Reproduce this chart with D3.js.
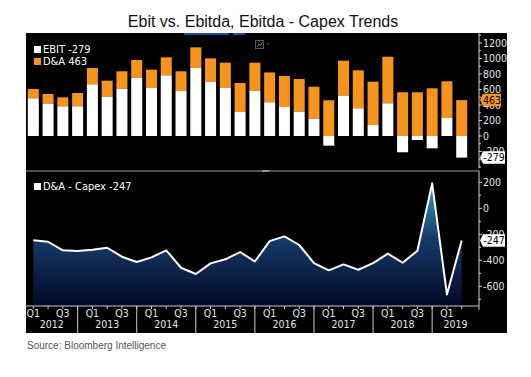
<!DOCTYPE html>
<html lang="en">
<head>
<meta charset="UTF-8">
<title>Ebit vs. Ebitda, Ebitda - Capex Trends</title>
<script src="https://d3js.org/d3.v7.min.js"></script>
<style>
  body { margin: 0; background: #fff; }
  svg { display: block; }
</style>
</head>
<body>
<div id="chart"></div>
<script>
// quarterly data, 2012 Q1 .. 2019 Q2
const quarters = [];
for (let y = 2012; y <= 2019; y++) {
  for (let q = 1; q <= 4; q++) {
    if (y === 2019 && q > 2) break;
    quarters.push(y + " Q" + q);
  }
}
const ebit = [486, 417, 383, 383, 667, 507, 610, 752, 619, 783, 581, 877, 697, 619, 310, 581,
              435, 374, 314, 223, -125, 520, 357, 142, 422, -210, -52, -159, 232, -279];
const da = [120, 125, 116, 172, 210, 207, 225, 229, 237, 232, 254, 267, 305, 327, 374, 365,
            385, 400, 421, 413, 461, 452, 491, 559, 601, 564, 564, 615, 474, 463];
const daCapex = [-246, -257, -323, -328, -318, -303, -372, -413, -377, -323, -457, -505, -423, -392, -336, -409,
                 -252, -216, -282, -421, -477, -431, -472, -421, -349, -418, -326, 192, -662, -247];
const years = [2012, 2013, 2014, 2015, 2016, 2017, 2018, 2019];
const topTicks = [-200, 0, 200, 400, 600, 800, 1000, 1200];
const botTicks = [-600, -400, -200, 0, 200];

const width = 531, height = 377;
const panel = { x0: 26, x1: 507, y0: 33, y1: 333 };
const axisX = 479;
const narrow = "'Liberation Sans Narrow', 'DejaVu Sans Condensed', 'Arial Narrow', sans-serif";
const orange = "#f7941d";

const svg = d3.select("#chart").append("svg")
  .attr("width", width).attr("height", height);

// title + source
svg.append("text")
  .attr("x", 263).attr("y", 26.5)
  .attr("text-anchor", "middle")
  .attr("font-family", "'Liberation Sans', Arial, sans-serif")
  .attr("font-size", 16).attr("fill", "#111")
  .text("Ebit vs. Ebitda, Ebitda - Capex Trends");

svg.append("text")
  .attr("x", 27).attr("y", 348.5)
  .attr("font-family", "'Liberation Sans', Arial, sans-serif")
  .attr("font-size", 10).attr("fill", "#555")
  .text("Source: Bloomberg Intelligence");

// black terminal panel
svg.append("rect")
  .attr("x", panel.x0).attr("y", panel.y0)
  .attr("width", panel.x1 - panel.x0).attr("height", panel.y1 - panel.y0)
  .attr("fill", "#000");

// little UI bits at the top of the panel
svg.append("rect").attr("x", 184).attr("y", 33).attr("width", 45).attr("height", 2).attr("fill", "#1d4e9e");
svg.append("rect").attr("x", 233).attr("y", 33).attr("width", 12).attr("height", 2).attr("fill", "#1d4e9e");
svg.append("rect").attr("x", 255.5).attr("y", 40.5).attr("width", 8).attr("height", 8)
  .attr("fill", "none").attr("stroke", "#555");
svg.append("path").attr("d", "M257,47 L259,44 L260.5,45.5 L262.5,42")
  .attr("fill", "none").attr("stroke", "#777");
svg.append("path").attr("d", "M267,43 L269,43 L268,44.5 Z").attr("fill", "#666");

const x = d3.scalePoint().domain(quarters).range([33.3, 461.7]);
const step = x.step();
const barW = 11;

// ---------- top chart: EBIT and D&A ----------
const yTop = d3.scaleLinear().domain([-413, 1329]).range([168, 33]);

const bars = svg.append("g");
quarters.forEach((q, i) => {
  const e = ebit[i], d = da[i];
  const base = Math.max(e, 0);
  // D&A stacked on positive EBIT (or from zero when EBIT is negative)
  bars.append("rect")
    .attr("x", x(q) - barW / 2).attr("width", barW)
    .attr("y", yTop(base + d)).attr("height", yTop(base) - yTop(base + d))
    .attr("fill", orange);
  bars.append("rect")
    .attr("x", x(q) - barW / 2).attr("width", barW)
    .attr("y", yTop(Math.max(e, 0))).attr("height", Math.abs(yTop(e) - yTop(0)))
    .attr("fill", "#fff");
});

function rightAxis(scale, ticks, minorStep, y0, y1) {
  const g = svg.append("g");
  g.append("line").attr("x1", axisX).attr("x2", axisX).attr("y1", y0).attr("y2", y1)
    .attr("stroke", "#ccc");
  const [lo, hi] = scale.domain();
  for (let v = Math.ceil(lo / minorStep) * minorStep; v <= hi; v += minorStep) {
    const major = ticks.includes(v);
    g.append("line")
      .attr("x1", axisX).attr("x2", axisX + (major ? 3 : 2))
      .attr("y1", scale(v)).attr("y2", scale(v))
      .attr("stroke", "#ccc");
  }
  g.selectAll("text").data(ticks).join("text")
    .attr("x", axisX + 4).attr("y", d => scale(d)).attr("dy", "0.35em")
    .attr("font-family", narrow).attr("font-size", 10.5).attr("fill", "#e6e6e6")
    .text(d => d);
}
rightAxis(yTop, topTicks, 100, 33, 168);

// value flags on the axis
function flag(yPos, label, fill, w) {
  const h = 12.5;
  svg.append("path")
    .attr("d", `M${axisX + 1},${yPos} L${axisX + 4},${yPos - h / 2} L${axisX + 4 + w},${yPos - h / 2} L${axisX + 4 + w},${yPos + h / 2} L${axisX + 4},${yPos + h / 2} Z`)
    .attr("fill", fill);
  svg.append("text")
    .attr("x", axisX + 4 + w / 2).attr("y", yPos).attr("dy", "0.35em")
    .attr("text-anchor", "middle")
    .attr("font-family", narrow).attr("font-size", 10.5).attr("fill", "#000")
    .text(label);
}
flag(yTop(ebit[29]), String(ebit[29]), "#fff", 22);
flag(yTop(da[29]), String(da[29]), orange, 18);

// legend
const legend = [{ label: "EBIT " + ebit[29], color: "#fff" }, { label: "D&A " + da[29], color: orange }];
legend.forEach((l, i) => {
  svg.append("rect").attr("x", 34).attr("y", 46 + i * 12).attr("width", 7).attr("height", 7).attr("fill", l.color);
  svg.append("text").attr("x", 43).attr("y", 53 + i * 12)
    .attr("font-family", narrow).attr("font-size", 11).attr("fill", "#fff")
    .text(l.label);
});

// divider between panes
svg.append("line").attr("x1", panel.x0).attr("x2", axisX).attr("y1", 171).attr("y2", 171)
  .attr("stroke", "#6a6a6a").attr("stroke-width", 1.5);
svg.append("line").attr("x1", 262).attr("x2", 269).attr("y1", 171).attr("y2", 171)
  .attr("stroke", "#aaa").attr("stroke-width", 1.5);

// ---------- bottom chart: D&A - Capex ----------
const yBot = d3.scaleLinear().domain([-751, 287]).range([306, 171]);

const grad = svg.append("defs").append("linearGradient")
  .attr("id", "areaGrad").attr("gradientUnits", "userSpaceOnUse")
  .attr("x1", 0).attr("x2", 0).attr("y1", 180).attr("y2", 306);
grad.append("stop").attr("offset", "0%").attr("stop-color", "#3aa4b8");
grad.append("stop").attr("offset", "45%").attr("stop-color", "#163d6c");
grad.append("stop").attr("offset", "100%").attr("stop-color", "#030826");

svg.append("path")
  .datum(daCapex)
  .attr("fill", "url(#areaGrad)")
  .attr("d", d3.area().x((d, i) => x(quarters[i])).y0(306).y1(d => yBot(d)));
svg.append("path")
  .datum(daCapex)
  .attr("fill", "none").attr("stroke", "#fff").attr("stroke-width", 2)
  .attr("stroke-linejoin", "round")
  .attr("d", d3.line().x((d, i) => x(quarters[i])).y(d => yBot(d)));

rightAxis(yBot, botTicks, 100, 171, 306);
flag(yBot(daCapex[29]), String(daCapex[29]), "#fff", 22);

svg.append("rect").attr("x", 34).attr("y", 183).attr("width", 7).attr("height", 7).attr("fill", "#fff");
svg.append("text").attr("x", 43).attr("y", 190)
  .attr("font-family", narrow).attr("font-size", 11).attr("fill", "#fff")
  .text("D&A - Capex " + daCapex[29]);

// x axis
const xa = svg.append("g");
xa.append("line").attr("x1", panel.x0).attr("x2", axisX).attr("y1", 306).attr("y2", 306)
  .attr("stroke", "#ccc");
quarters.forEach((q, i) => {
  xa.append("line").attr("x1", x(q)).attr("x2", x(q)).attr("y1", 306).attr("y2", 309)
    .attr("stroke", "#ccc");
  if (i % 4 === 0 || i % 4 === 2) {
    xa.append("text").attr("x", x(q)).attr("y", 317)
      .attr("text-anchor", "middle")
      .attr("font-family", narrow).attr("font-size", 10.5).attr("fill", "#e6e6e6")
      .text(i % 4 === 0 ? "Q1" : "Q3");
  }
});
// year separators sit on each Q4 point
const sepX = q => Math.min(Math.max(q, panel.x0), axisX);
years.forEach((yr, k) => {
  const start = sepX(x(quarters[0]) + (4 * k - 1) * step);
  const end = sepX(x(quarters[0]) + (4 * k + 3) * step);
  if (k > 0) {
    xa.append("line").attr("x1", start).attr("x2", start).attr("y1", 306).attr("y2", 333)
      .attr("stroke", "#ccc");
  }
  xa.append("text").attr("x", (start + end) / 2).attr("y", 328)
    .attr("text-anchor", "middle")
    .attr("font-family", narrow).attr("font-size", 10.5).attr("fill", "#e6e6e6")
    .text(yr);
});
xa.append("line").attr("x1", axisX).attr("x2", axisX).attr("y1", 306).attr("y2", 310)
  .attr("stroke", "#ccc");
</script>
</body>
</html>
